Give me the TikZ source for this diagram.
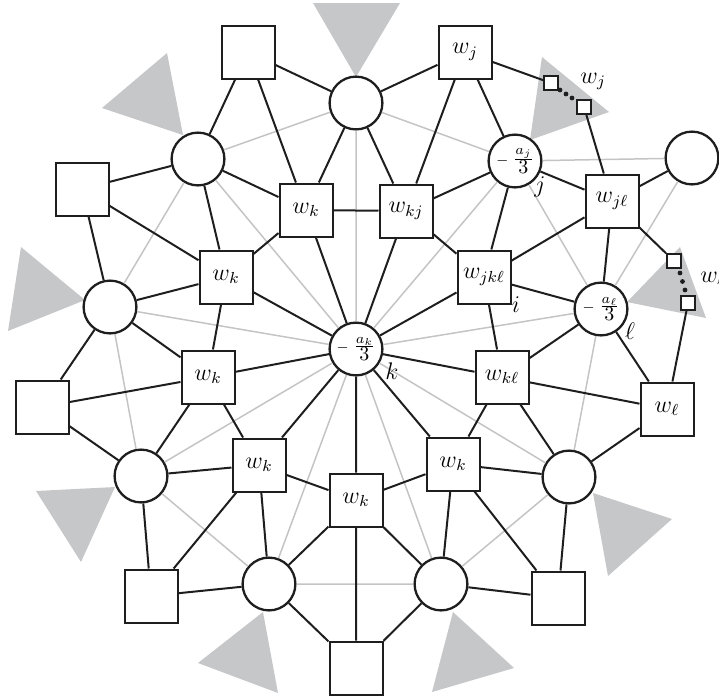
\documentclass[12pt,tikz,border=0pt]{standalone}
\definecolor{trigray}{RGB}{198,199,201}
\definecolor{linegray}{RGB}{196,196,196}
\definecolor{ink}{RGB}{30,30,30}
\newcommand{\negfrac}[2]{{\fontsize{10}{12}\selectfont ${\scriptstyle -}\mskip4mu\frac{#1}{\textstyle #2}$}}
\begin{document}
\begin{tikzpicture}[x=0.5pt,y=-0.5pt,
  sq/.style={draw=ink, line width=1pt, fill=white, minimum size=26.5pt, inner sep=0pt},
  cir/.style={draw=ink, circle, line width=1.15pt, fill=white, minimum size=26.4pt, inner sep=0pt},
  smallsq/.style={draw=ink, line width=1pt, fill=white, minimum size=7pt, inner sep=0pt},
  blk/.style={line width=1pt, draw=ink},
  gry/.style={line width=0.75pt, draw=linegray},
  tri/.style={fill=trigray},
  lab/.style={inner sep=0pt}]
\useasboundingbox (0,0) rectangle (719,698);
% gray triangles
\fill[tri] (313,3) -- (400,3) -- (356,77) -- cycle;
\fill[tri] (167,53) -- (102,108) -- (183,135) -- cycle;
\fill[tri] (21,247) -- (8,331) -- (85,300) -- cycle;
\fill[tri] (36,491) -- (81,562) -- (115,487) -- cycle;
\fill[tri] (198,663) -- (278,693) -- (263,612) -- cycle;
\fill[tri] (453,612) -- (514,668) -- (432,692) -- cycle;
\fill[tri] (593,493) -- (672,519) -- (608,576) -- cycle;
\fill[tri] (627,302) -- (680,247) -- (706,318) -- cycle;
\fill[tri] (530,140) -- (542,57) -- (609,112) -- cycle;
% center
\node[cir] (c) at (356,349) {\negfrac{a_k}{3}};
% ring circles
\node[cir] (r90) at (356,103) {};
\node[cir] (r130) at (198,159) {};
\node[cir] (r170) at (110,307) {};
\node[cir] (r210) at (141,476) {};
\node[cir] (r250) at (269,584) {};
\node[cir] (r290) at (441,584) {};
\node[cir] (r330) at (569,477) {};
\node[cir] (r10) at (601,309) {\negfrac{a_\ell}{3}};
\node[cir] (r50) at (515,161) {\negfrac{a_j}{3}};
\node[cir] (f) at (692,158) {};
% inner squares
\node[sq] (i110) at (306,210) {$w_k$};
\node[sq] (i70) at (406,211) {$w_{kj}$};
\node[sq] (i150) at (226,277) {$w_k$};
\node[sq] (i190) at (208,377) {$w_k$};
\node[sq] (i230) at (259,465) {$w_k$};
\node[sq] (i270) at (356,500) {$w_k$};
\node[sq] (i310) at (453,464) {$w_k$};
\node[sq] (i350) at (502,377) {$w_{k\ell}$};
\node[sq] (i30) at (484,277) {$w_{jk\ell}$};
% outer squares
\node[sq] (o110) at (248,52) {};
\node[sq] (o70) at (465,52) {$w_j$};
\node[sq] (o150) at (82,189) {};
\node[sq] (o190) at (42,407) {};
\node[sq] (o230) at (151,596) {};
\node[sq] (o270) at (356,668) {};
\node[sq] (o310) at (558,598) {};
\node[sq] (o350) at (667,409) {$w_\ell$};
\node[sq] (o30) at (612,201) {$w_{j\ell}$};
% small squares
\node[smallsq] (sj1) at (551,83) {};
\node[smallsq] (sj2) at (584,107) {};
\node[smallsq] (sl1) at (674,261) {};
\node[smallsq] (sl2) at (688,303) {};
% gray connectors
\foreach \p/\q in {10/50,50/90,90/130,130/170,170/210,210/250,250/290,290/330,330/10}
  \draw[gry] (c) -- (r\p) (r\p) -- (r\q);
\draw[gry] (f) -- (r50) (f) -- (r10);
% black connectors
\foreach \t/\a/\b in {30/10/50,70/50/90,110/90/130,150/130/170,190/170/210,230/210/250,270/250/290,310/290/330,350/330/10}
  \draw[blk] (i\t) -- (r\a) (i\t) -- (r\b) (o\t) -- (r\a) (o\t) -- (r\b) (c) -- (i\t) (i\t) -- (o\t);
\foreach \t/\n in {30/70,70/110,110/150,150/190,190/230,230/270,270/310,310/350,350/30}
  \draw[blk] (i\t) -- (i\n);
\draw[blk] (o30) -- (f) (o70) -- (sj1) (sj2) -- (o30) (o30) -- (sl1) (sl2) -- (o350);
% dots
\foreach \p in {(560,90),(566,94),(572,98),(680,273),(682.5,281.5),(685,290)}
  \fill[ink] \p circle (1.2pt);
% labels
\node[lab, anchor=base west] (lwj) at (580,83) {$w_j$};
\node[lab, anchor=base west] (lwl) at (700,282) {$w_\ell$};
\node[lab] (lj) at (540,187) {$j$};
\node[lab] (li) at (516,305) {$i$};
\node[lab] (ll) at (630,331) {$\ell$};
\node[lab] (lk) at (392,371) {$k$};
\end{tikzpicture}
\end{document}
